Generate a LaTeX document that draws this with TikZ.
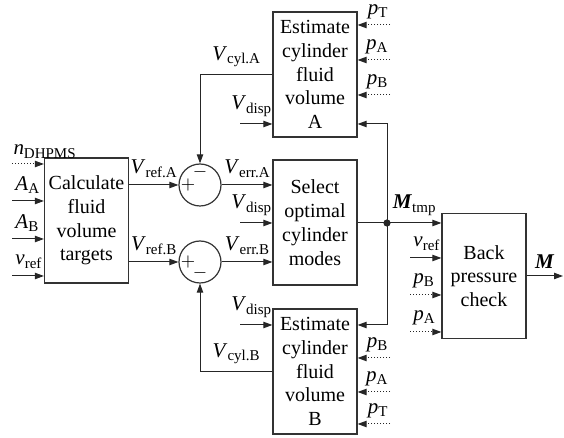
\documentclass[tikz,border=0pt]{standalone}
\usepackage{fontspec}
\setmainfont{Liberation Serif}
\usetikzlibrary{positioning,arrows.meta,calc}
\newcommand{\sig}[2]{\textit{#1}\raisebox{-0.35ex}{\fontsize{7.5}{8}\selectfont #2}}
\tikzset{
  block/.style={draw=black!80, line width=0.6pt, minimum width=42pt, minimum height=62.5pt,
    align=center, inner sep=0.5pt, font=\fontsize{10}{11.9}\selectfont},
  summer/.style={draw=black!80, line width=0.6pt, circle, minimum size=21pt, inner sep=0pt},
  signal/.style={line width=0.5pt, draw=black!85, -{Triangle[length=4.5pt,width=3.2pt]}},
  measured/.style={line width=0.5pt, draw=black!85, densely dotted, -{Triangle[length=4.5pt,width=3.2pt]}},
  link/.style={line width=0.5pt, draw=black!85},
  lbl/.style={inner sep=1.5pt, yshift=2pt, font=\fontsize{10.5}{11}\selectfont}
}

\begin{document}
\begin{tikzpicture}[x=0.5pt, y=-0.5pt]
    \useasboundingbox (0,0) rectangle (564,438);

    \node[block] (calc) at (86.5,220.5) {Calculate\\fluid\\volume\\targets};
    \node[block] (sel)  at (315,222.5) {Select\\optimal\\cylinder\\modes};
    \node[block] (estA) at (315,74.5) {Estimate\\cylinder\\fluid\\volume\\A};
    \node[block] (estB) at (315,371.5) {Estimate\\cylinder\\fluid\\volume\\B};
    \node[block] (back) at (484,276) {Back\\pressure\\check};

    \node[summer] (sumA) at (200,185) {};
    \node[summer] (sumB) at (200,262) {};
    \node[font=\small] at ([yshift=-4.5pt]sumA.north) {$-$};
    \node[font=\small] at ([xshift=-6pt]sumA.center) {$+$};
    \node[font=\small] at ([xshift=-6pt]sumB.center) {$+$};
    \node[font=\small] at ([yshift=-5.5pt]sumB.center) {$-$};

    % inputs of the volume targets
    \coordinate (nin) at (12,164);
    \coordinate (aain) at (12,201);
    \coordinate (abin) at (12,239);
    \coordinate (vin) at (12,276);
    \draw[measured] (nin) node[lbl, above right, inner sep=0.5pt] {\sig{n}{DHPMS}} -- (nin -| calc.west);
    \draw[signal] (aain) node[lbl, above right] {\sig{A}{A}} -- (aain -| calc.west);
    \draw[signal] (abin) node[lbl, above right] {\sig{A}{B}} -- (abin -| calc.west);
    \draw[signal] (vin) node[lbl, above right] {\sig{v}{ref}} -- (vin -| calc.west);

    \draw[signal] (sumA -| calc.east) -- node[lbl, above] {\sig{V}{ref.A}} (sumA.west);
    \draw[signal] (sumB -| calc.east) -- node[lbl, above] {\sig{V}{ref.B}} (sumB.west);
    \draw[signal] (sumA.east) -- node[lbl, above] {\sig{V}{err.A}} (sumA -| sel.west);
    \draw[signal] (sumB.east) -- node[lbl, above] {\sig{V}{err.B}} (sumB -| sel.west);

    \draw[signal] (estA.west) -| node[lbl, above, pos=0.25] {\sig{V}{cyl.A}} (sumA.north);
    \draw[signal] (estB.west) -| node[lbl, above, pos=0.25] {\sig{V}{cyl.B}} (sumB.south);

    \coordinate (vdA) at (240,124);
    \coordinate (vdS) at (240,223);
    \coordinate (vdB) at (240,325);
    \draw[signal] (vdA) -- node[lbl, above, xshift=-2.5pt] {\sig{V}{disp}} (vdA -| estA.west);
    \draw[signal] (vdS) -- node[lbl, above, xshift=-2.5pt] {\sig{V}{disp}} (vdS -| sel.west);
    \draw[signal] (vdB) -- node[lbl, above, xshift=-2.5pt] {\sig{V}{disp}} (vdB -| estB.west);

    % pressures
    \coordinate (pTa) at (390,25);
    \coordinate (pAa) at (390,60);
    \coordinate (pBa) at (390,95);
    \coordinate (pBb) at (390,358);
    \coordinate (pAb) at (390,392);
    \coordinate (pTb) at (390,424);
    \draw[measured] (pTa) node[lbl, above left, inner sep=1pt] {\sig{p}{T}} -- (pTa -| estA.east);
    \draw[measured] (pAa) node[lbl, above left, inner sep=1pt] {\sig{p}{A}} -- (pAa -| estA.east);
    \draw[measured] (pBa) node[lbl, above left, inner sep=1pt] {\sig{p}{B}} -- (pBa -| estA.east);
    \draw[measured] (pBb) node[lbl, above left, inner sep=1pt] {\sig{p}{B}} -- (pBb -| estB.east);
    \draw[measured] (pAb) node[lbl, above left, inner sep=1pt] {\sig{p}{A}} -- (pAb -| estB.east);
    \draw[measured] (pTb) node[lbl, above left, inner sep=1pt] {\sig{p}{T}} -- (pTb -| estB.east);

    % mode vector and feedback
    \coordinate (dot) at (387,223);
    \coordinate (fbA) at (387,124);
    \coordinate (fbB) at (387,325);
    \draw[link] (sel.east |- dot) -- (dot);
    \draw[signal] (dot) -- node[lbl, above] {\sig{\textbf{M}}{tmp}} (dot -| back.west);
    \draw[signal] (dot) -- (fbA) -- (fbA -| estA.east);
    \draw[signal] (dot) -- (fbB) -- (fbB -| estB.east);
    \fill[black!85] (dot) circle (1.8pt);

    \coordinate (vrb) at (410,258);
    \coordinate (pBc) at (410,295);
    \coordinate (pAc) at (410,332);
    \draw[signal] (vrb) node[lbl, above right] {\sig{v}{ref}} -- (vrb -| back.west);
    \draw[measured] (pBc) node[lbl, above right] {\sig{p}{B}} -- (pBc -| back.west);
    \draw[measured] (pAc) node[lbl, above right] {\sig{p}{A}} -- (pAc -| back.west);

    \coordinate (Mout) at (563,276);
    \draw[signal] (back.east) -- node[lbl, above] {\textbf{\textit{M}}} (Mout);
\end{tikzpicture}
\end{document}
